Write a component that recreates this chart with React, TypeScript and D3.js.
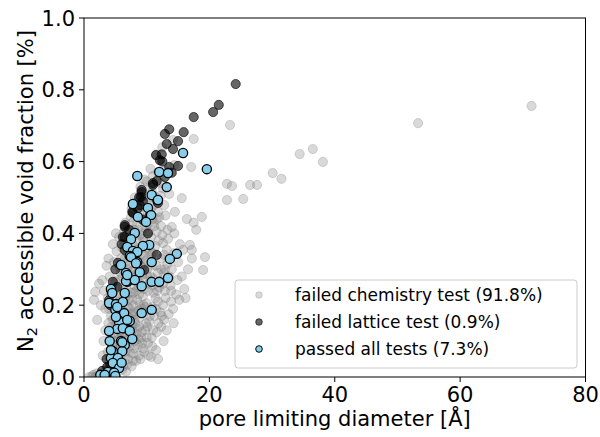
import React from "react";
import * as d3 from "d3";

const xTicks = [0, 20, 40, 60, 80];
const yTicks = [0, 0.2, 0.4, 0.6, 0.8, 1.0];

const legendLabels = [
  "failed chemistry test (91.8%)",
  "failed lattice test (0.9%)",
  "passed all tests (7.3%)",
];

// failed chemistry test: [pore limiting diameter, void fraction]
const chemistryFailed: [number, number][] = [
  [0.8, 0.0], [1.3, 0.002], [1.8, 0.0], [2.2, 0.004], [2.6, 0.0], [3.0, 0.003], [3.3, 0.008], [3.6, 0.0],
  [4.0, 0.005], [4.3, 0.012], [2.0, 0.01], [1.5, 0.006],
  [3.5, 0.02], [4.6, 0.03], [5.2, 0.02], [5.8, 0.04], [6.3, 0.03], [7.0, 0.05], [4.0, 0.04], [6.7, 0.015],
  [7.6, 0.03], [8.3, 0.045], [5.5, 0.06], [9.0, 0.05], [10.7, 0.056], [4.8, 0.05],
  [3.8, 0.07], [4.5, 0.085], [5.1, 0.075], [5.9, 0.09], [6.6, 0.07], [7.2, 0.085], [7.9, 0.065], [8.6, 0.09],
  [9.4, 0.08], [10.2, 0.095], [11.5, 0.075], [6.2, 0.1], [8.1, 0.1],
  [4.2, 0.11], [4.9, 0.12], [5.6, 0.105], [6.4, 0.125], [7.0, 0.115], [7.7, 0.13], [8.4, 0.12], [9.1, 0.11],
  [9.8, 0.13], [10.8, 0.109], [11.6, 0.125], [12.3, 0.14], [5.3, 0.14], [6.9, 0.14],
  [3.9, 0.15], [4.6, 0.16], [5.4, 0.155], [6.1, 0.17], [6.8, 0.16], [7.5, 0.175], [8.2, 0.15], [8.9, 0.165],
  [9.6, 0.18], [10.4, 0.155], [11.2, 0.17], [12.8, 0.16], [13.5, 0.175], [7.9, 0.18], [2.1, 0.159],
  [4.0, 0.19], [4.7, 0.2], [5.5, 0.185], [6.3, 0.21], [7.0, 0.195], [7.8, 0.2], [8.5, 0.215], [9.2, 0.19],
  [10.0, 0.205], [10.9, 0.195], [11.8, 0.21], [12.6, 0.2], [14.2, 0.19], [15.2, 0.215], [1.6, 0.215], [6.6, 0.22],
  [1.8, 0.237], [3.2, 0.24], [4.3, 0.23], [5.1, 0.245], [5.8, 0.225], [6.7, 0.25], [7.4, 0.235], [8.1, 0.255],
  [8.8, 0.23], [9.6, 0.245], [10.3, 0.26], [11.1, 0.235], [12.0, 0.25], [12.9, 0.24], [13.8, 0.255], [14.7, 0.23], [16.0, 0.245],
  [2.9, 0.27], [4.1, 0.28], [5.0, 0.265], [5.9, 0.29], [6.8, 0.275], [7.6, 0.295], [8.4, 0.27], [9.3, 0.285],
  [10.1, 0.3], [11.0, 0.275], [12.0, 0.262], [12.7, 0.29], [13.6, 0.28], [14.9, 0.27], [16.6, 0.3], [19.0, 0.298],
  [3.6, 0.31], [4.8, 0.32], [5.7, 0.305], [6.5, 0.33], [7.3, 0.315], [8.2, 0.335], [9.0, 0.31], [9.9, 0.325],
  [10.7, 0.34], [11.5, 0.31], [12.4, 0.33], [13.3, 0.315], [15.0, 0.32], [17.2, 0.33],
  [5.2, 0.35], [6.1, 0.36], [6.9, 0.345], [7.8, 0.37], [8.7, 0.355], [9.6, 0.375], [10.5, 0.35], [11.4, 0.365],
  [12.6, 0.373], [13.2, 0.355], [15.8, 0.354], [16.9, 0.368], [17.2, 0.354], [19.3, 0.334], [14.4, 0.345],
  [5.6, 0.39], [6.4, 0.405], [7.2, 0.385], [8.0, 0.41], [8.9, 0.395], [9.8, 0.415], [10.7, 0.39], [11.6, 0.405],
  [12.5, 0.395], [14.0, 0.418], [13.3, 0.41],
  [6.6, 0.43], [7.5, 0.445], [8.4, 0.425], [9.3, 0.44], [10.2, 0.455], [11.1, 0.43], [12.0, 0.445], [16.4, 0.44],
  [17.5, 0.43], [18.8, 0.446], [14.5, 0.46], [13.0, 0.45],
  [7.6, 0.47], [8.5, 0.49], [9.4, 0.475], [10.4, 0.5], [11.3, 0.48], [12.2, 0.505], [12.8, 0.479], [15.6, 0.498],
  [13.6, 0.51], [10.9, 0.515],
  [9.0, 0.53], [10.0, 0.545], [11.0, 0.56], [12.2, 0.54], [13.0, 0.575], [17.1, 0.585], [14.4, 0.59], [10.6, 0.58],
  [11.5, 0.62], [12.5, 0.64], [17.5, 0.663], [14.2, 0.66],
  [23.3, 0.702], [53.3, 0.707], [71.4, 0.755], [34.4, 0.621], [36.5, 0.635], [38.1, 0.599], [30.1, 0.568],
  [31.5, 0.552], [22.8, 0.538], [23.6, 0.532], [26.5, 0.535], [27.6, 0.535], [22.8, 0.493], [25.4, 0.496],
  [5.0, 0.03], [5.7, 0.05], [6.5, 0.06], [7.3, 0.07], [8.0, 0.08], [5.3, 0.09], [6.0, 0.115], [6.8, 0.1],
  [7.5, 0.12], [8.8, 0.14], [5.8, 0.13], [6.5, 0.15], [7.2, 0.165], [8.0, 0.16], [8.7, 0.185], [9.5, 0.2],
  [5.2, 0.17], [5.9, 0.2], [6.9, 0.23], [7.7, 0.215], [8.3, 0.24], [9.0, 0.26], [9.8, 0.27], [6.2, 0.25],
  [7.1, 0.28], [8.0, 0.3], [8.8, 0.32], [9.5, 0.34], [10.3, 0.32], [7.5, 0.35], [8.4, 0.38], [9.2, 0.4],
  [10.0, 0.42], [10.9, 0.44], [11.8, 0.46], [10.6, 0.28], [11.4, 0.22], [12.2, 0.18], [10.5, 0.17], [9.9, 0.15],
  [13.0, 0.22], [13.9, 0.24], [12.3, 0.3], [14.0, 0.3], [4.5, 0.25], [3.8, 0.22], [3.4, 0.19], [4.4, 0.14],
  [4.4, 0.02], [5.4, 0.035], [6.1, 0.02], [6.9, 0.035], [7.8, 0.045], [8.8, 0.06], [9.6, 0.07], [10.3, 0.06],
  [4.7, 0.06], [5.6, 0.075], [6.4, 0.085], [7.1, 0.095], [7.9, 0.11], [8.7, 0.105], [9.3, 0.095], [10.0, 0.11], [10.9, 0.085],
  [4.8, 0.1], [5.5, 0.12], [6.3, 0.135], [7.0, 0.13], [7.7, 0.145], [8.5, 0.135], [9.2, 0.125], [10.1, 0.14], [11.0, 0.13], [11.9, 0.15],
  [4.3, 0.17], [5.0, 0.145], [5.8, 0.165], [6.6, 0.18], [7.3, 0.19], [8.1, 0.175], [8.9, 0.2], [9.7, 0.195], [10.6, 0.185], [11.5, 0.19], [12.4, 0.17],
  [4.9, 0.22], [5.6, 0.21], [6.3, 0.23], [7.1, 0.215], [7.9, 0.235], [8.7, 0.25], [9.4, 0.225], [10.2, 0.24], [11.0, 0.255], [11.7, 0.24], [12.6, 0.26],
  [5.4, 0.27], [6.1, 0.28], [6.9, 0.3], [7.7, 0.28], [8.5, 0.29], [9.3, 0.305], [10.0, 0.285], [10.9, 0.31], [11.8, 0.29], [12.9, 0.3], [13.6, 0.33],
  [5.9, 0.33], [6.7, 0.32], [7.4, 0.345], [8.3, 0.355], [9.1, 0.34], [10.0, 0.36], [11.0, 0.345], [11.9, 0.38], [12.8, 0.34],
  [6.3, 0.38], [7.0, 0.37], [7.8, 0.395], [8.6, 0.41], [9.4, 0.385], [10.3, 0.405], [11.2, 0.42], [12.3, 0.42], [13.4, 0.385],
  [6.9, 0.41], [7.7, 0.43], [8.8, 0.455], [9.8, 0.44], [10.7, 0.47], [11.6, 0.44],
  [8.1, 0.5], [9.0, 0.51], [9.9, 0.49], [11.6, 0.5], [12.6, 0.525], [10.5, 0.53], [11.8, 0.57], [9.6, 0.55],
  [3.1, 0.1], [3.4, 0.13], [3.0, 0.06], [2.7, 0.2], [2.4, 0.26], [3.9, 0.33], [4.6, 0.37], [5.1, 0.4],
  [13.2, 0.13], [14.3, 0.15], [12.7, 0.1], [11.8, 0.05], [13.9, 0.21], [15.6, 0.28], [16.2, 0.22], [14.4, 0.4],
  [15.3, 0.37], [17.9, 0.41],
];

// failed lattice test
const latticeFailed: [number, number][] = [
  [24.2, 0.816], [21.5, 0.758], [20.6, 0.738], [17.5, 0.724], [15.9, 0.682], [13.6, 0.69], [12.9, 0.677],
  [15.0, 0.657], [13.2, 0.649], [14.2, 0.635], [11.5, 0.618], [12.1, 0.604], [13.6, 0.585], [15.0, 0.588],
  [14.0, 0.569], [12.9, 0.557], [11.0, 0.535], [11.8, 0.485], [11.6, 0.546], [9.2, 0.521], [9.1, 0.501],
  [9.4, 0.49], [8.9, 0.479], [7.7, 0.46], [11.6, 0.493], [6.5, 0.418], [6.5, 0.39], [11.6, 0.34], [5.4, 0.318],
  [4.6, 0.265], [4.0, 0.214], [7.0, 0.265], [3.7, 0.028], [2.9, 0.017], [9.2, 0.515], [8.6, 0.47],
  [7.8, 0.457], [6.5, 0.423], [6.2, 0.39], [6.5, 0.354], [10.5, 0.451], [9.4, 0.437], [5.3, 0.251],
  [4.3, 0.242], [9.6, 0.298], [6.9, 0.265], [11.0, 0.54], [8.8, 0.5], [7.2, 0.41], [6.0, 0.37],
  [10.2, 0.4], [5.0, 0.3], [4.2, 0.2], [3.6, 0.05], [4.2, 0.03], [12.5, 0.6], [12.4, 0.62],
];

// passed all tests
const passedAll: [number, number][] = [
  [8.5, 0.56], [12.0, 0.571], [13.4, 0.568], [15.8, 0.624], [19.6, 0.579], [13.2, 0.529], [10.8, 0.507],
  [11.8, 0.493], [7.8, 0.482], [10.2, 0.471], [8.6, 0.446], [10.7, 0.451], [9.9, 0.432], [8.1, 0.401],
  [7.5, 0.384], [10.4, 0.368], [9.4, 0.365], [6.9, 0.362], [7.8, 0.351], [8.5, 0.348], [7.3, 0.337],
  [14.8, 0.343], [13.7, 0.329], [5.9, 0.312], [8.5, 0.32], [10.8, 0.32], [6.7, 0.29], [8.9, 0.292],
  [6.7, 0.267], [8.1, 0.27], [10.8, 0.265], [12.0, 0.265], [13.4, 0.276], [9.2, 0.253], [6.5, 0.234],
  [4.3, 0.245], [4.5, 0.234], [4.0, 0.206], [5.1, 0.203], [6.2, 0.209], [5.0, 0.187], [6.4, 0.178],
  [9.2, 0.178], [10.8, 0.187], [7.3, 0.156], [5.6, 0.153], [5.3, 0.134], [6.2, 0.136], [4.0, 0.128],
  [7.3, 0.128], [4.1, 0.1], [5.9, 0.1], [6.5, 0.089], [7.7, 0.106], [4.6, 0.072], [6.1, 0.072],
  [4.3, 0.053], [5.4, 0.053], [4.6, 0.039], [5.6, 0.025], [3.8, 0.014], [2.6, 0.006], [3.3, 0.006],
  [7.5, 0.334], [8.3, 0.317], [6.9, 0.284], [5.3, 0.195], [5.1, 0.167], [6.9, 0.159], [6.1, 0.097],
  [4.3, 0.075], [4.8, 0.012], [5.0, 0.003], [6.0, 0.04],
];

const W = 600;
const H = 437;
const m = { left: 84, right: 585.5, top: 18, bottom: 377 };
const FONT = "DejaVu Sans, sans-serif";
const FS = 21;

export default function App() {
  const x = d3.scaleLinear().domain([0, 80]).range([m.left, m.right]);
  const y = d3.scaleLinear().domain([0, 1]).range([m.bottom, m.top]);
  const r = 4.6;

  const lx = 259;
  const ly = [295, 322, 349];

  return (
    <svg
      width={W}
      height={H}
      style={{ position: "absolute", left: 0, top: 0, background: "#fff" }}
      fontFamily={FONT}
    >
      <defs>
        <clipPath id="plot">
          <rect x={m.left} y={m.top} width={m.right - m.left} height={m.bottom - m.top} />
        </clipPath>
      </defs>
      <g clipPath="url(#plot)">
        {chemistryFailed.map((d, i) => (
          <circle
            key={"c" + i}
            cx={x(d[0])}
            cy={y(d[1])}
            r={r}
            fill="#808080"
            fillOpacity={0.3}
            stroke="#808080"
            strokeOpacity={0.3}
            strokeWidth={1}
          />
        ))}
        {latticeFailed.map((d, i) => (
          <circle
            key={"l" + i}
            cx={x(d[0])}
            cy={y(d[1])}
            r={r}
            fill="#000"
            fillOpacity={0.6}
            stroke="#000"
            strokeOpacity={0.6}
            strokeWidth={1}
          />
        ))}
        {passedAll.map((d, i) => (
          <circle
            key={"p" + i}
            cx={x(d[0])}
            cy={y(d[1])}
            r={r}
            fill="#87ceeb"
            stroke="#000"
            strokeWidth={1.3}
          />
        ))}
      </g>

      {/* spines */}
      <rect
        x={m.left}
        y={m.top}
        width={m.right - m.left}
        height={m.bottom - m.top}
        fill="none"
        stroke="#000"
        strokeWidth={1}
      />

      {/* x ticks */}
      {xTicks.map((t) => (
        <g key={"xt" + t}>
          <line x1={x(t)} x2={x(t)} y1={m.bottom} y2={m.bottom + 5} stroke="#000" strokeWidth={1} />
          <text x={x(t)} y={402} textAnchor="middle" fontSize={FS} fill="#000">
            {t}
          </text>
        </g>
      ))}
      {/* y ticks */}
      {yTicks.map((t) => (
        <g key={"yt" + t}>
          <line x1={m.left - 5} x2={m.left} y1={y(t)} y2={y(t)} stroke="#000" strokeWidth={1} />
          <text x={m.left - 9} y={y(t) + 7.6} textAnchor="end" fontSize={FS} fill="#000">
            {t.toFixed(1)}
          </text>
        </g>
      ))}

      <text x={(m.left + m.right) / 2} y={426} textAnchor="middle" fontSize={FS} fill="#000">
        pore limiting diameter [Å]
      </text>
      <text
        transform={`translate(33, 191) rotate(-90)`}
        textAnchor="middle"
        fontSize={FS}
        fill="#000"
      >
        N<tspan fontSize={FS * 0.7} dy={4}>2</tspan>
        <tspan dy={-4}> accessible void fraction [%]</tspan>
      </text>

      {/* legend */}
      <rect x={235} y={280} width={342} height={88} rx={3} fill="#fff" fillOpacity={0.8} stroke="#ccc" strokeWidth={1} />
      <circle cx={lx} cy={ly[0]} r={3.3} fill="#808080" fillOpacity={0.3} stroke="#808080" strokeOpacity={0.3} />
      <circle cx={lx} cy={ly[1]} r={3.3} fill="#000" fillOpacity={0.6} stroke="#000" strokeOpacity={0.6} />
      <circle cx={lx} cy={ly[2]} r={3.3} fill="#87ceeb" stroke="#000" strokeWidth={1} />
      {legendLabels.map((s, i) => (
        <text key={s} x={295} y={ly[i] + 6} fontSize={17} fill="#000">
          {s}
        </text>
      ))}
    </svg>
  );
}
